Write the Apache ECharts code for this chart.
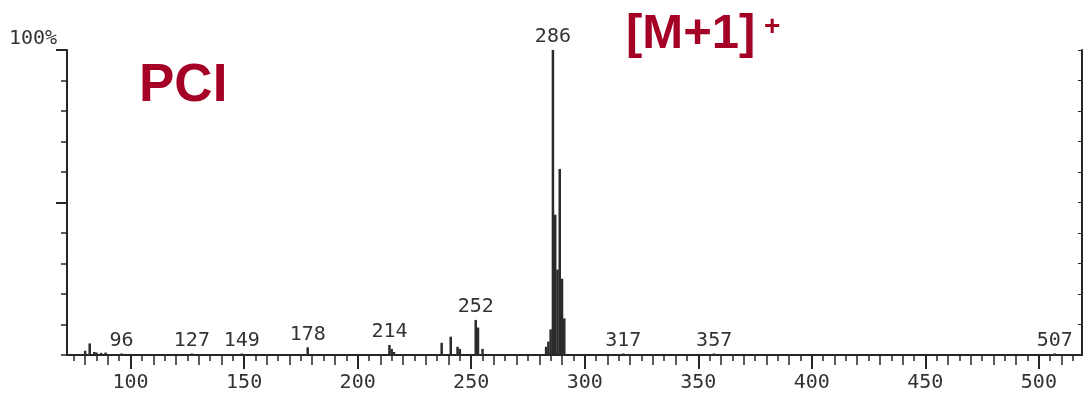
<!DOCTYPE html>
<html>
<head>
<meta charset="utf-8">
<script src="https://cdn.jsdelivr.net/npm/echarts@6/dist/echarts.min.js"></script>
<style>
  html, body { margin: 0; padding: 0; background: #ffffff; }
  #chart { width: 1085px; height: 397px; }
</style>
</head>
<body>
<div id="chart"></div>
<script>
// m/z positions of the peaks
const mzValues = [80, 82, 84, 85, 87, 89, 96, 127, 149, 178, 214, 215, 216, 237, 241, 244, 245, 252, 253, 255, 283, 284, 285, 286, 287, 288, 289, 290, 291, 317, 357, 507];
// relative intensities (%)
const intensities = [1.4, 3.8, 1.0, 0.8, 0.7, 0.8, 0.5, 0.5, 0.5, 2.5, 3.3, 2.0, 1.0, 4.0, 6.0, 2.7, 2.0, 11.5, 9.0, 2.0, 2.7, 4.4, 8.4, 100, 46, 28, 61, 25, 12, 0.5, 0.5, 0.5];
// peaks that carry an m/z label
const labeledPeaks = [96, 127, 149, 178, 214, 252, 286, 317, 357, 507];
// x-axis tick labels
const xLabelValues = [100, 150, 200, 250, 300, 350, 400, 450, 500];
const yTopLabel = '100%';
const titleText = 'PCI';
const ionText = '[M+1]';
const ionCharge = '+';

const xMin = 72, xMax = 519;
const fives = [], tens = [];
for (let v = 75; v <= 515; v += 5) { if (v % 10 === 0) tens.push(v); else fives.push(v); }

const mono = 'DejaVu Sans Mono';
const ink = '#262626';
const red = '#a50026';

const chart = echarts.init(document.getElementById('chart'), null, { renderer: 'canvas' });

const baseX = {
  type: 'value', min: xMin, max: xMax, position: 'bottom', offset: 0,
  splitLine: { show: false }
};

chart.setOption({
  animation: false,
  backgroundColor: '#ffffff',
  grid: { left: 67, right: 3, top: 50, bottom: 42, containLabel: false },
  xAxis: [
    Object.assign({}, baseX, {
      axisLine: { show: true, lineStyle: { color: ink, width: 2 } },
      axisTick: { show: true, customValues: fives, length: 6, lineStyle: { color: ink, width: 1.5 } },
      axisLabel: { show: true, customValues: xLabelValues, margin: 18, fontFamily: mono, fontSize: 20, color: '#333' }
    }),
    Object.assign({}, baseX, {
      axisLine: { show: false },
      axisTick: { show: true, customValues: tens, length: 10, lineStyle: { color: ink, width: 1.5 } },
      axisLabel: { show: false }
    }),
    Object.assign({}, baseX, {
      axisLine: { show: false },
      axisTick: { show: true, customValues: xLabelValues, length: 14, lineStyle: { color: ink, width: 2 } },
      axisLabel: { show: false }
    })
  ],
  yAxis: [
    {
      type: 'value', min: 0, max: 100, interval: 10, position: 'left',
      axisLine: { show: true, lineStyle: { color: ink, width: 2 } },
      axisTick: { show: true, length: 6, lineStyle: { color: ink, width: 1.5 } },
      axisLabel: { show: false }, splitLine: { show: false }
    },
    {
      type: 'value', min: 0, max: 100, position: 'left', offset: 0,
      axisLine: { show: false },
      axisTick: { show: true, customValues: [50, 100], length: 11, lineStyle: { color: ink, width: 2 } },
      axisLabel: { show: false }, splitLine: { show: false }
    },
    {
      type: 'value', min: 0, max: 100, interval: 10, position: 'right',
      axisLine: { show: true, lineStyle: { color: ink, width: 2 } },
      axisTick: { show: true, inside: true, length: 4, lineStyle: { color: ink, width: 1 } },
      axisLabel: { show: false }, splitLine: { show: false }
    }
  ],
  series: [{
    type: 'bar',
    xAxisIndex: 0,
    yAxisIndex: 0,
    barWidth: 2.5,
    itemStyle: { color: '#2b2b2b' },
    label: {
      show: false, position: 'top', distance: 3,
      fontFamily: mono, fontSize: 20, color: '#333',
      formatter: p => String(p.value[0])
    },
    data: mzValues.map((m, i) => ({
      value: [m, intensities[i]],
      label: { show: labeledPeaks.indexOf(m) >= 0 }
    }))
  }],
  graphic: [
    { type: 'text', left: 9, top: 29, style: { text: yTopLabel, font: '20px "DejaVu Sans Mono"', fill: '#333' } },
    { type: 'text', left: 139, top: 60, style: { text: titleText, font: 'bold 53px "Liberation Sans"', fill: red } },
    { type: 'text', left: 626, top: 10, style: { text: ionText, font: 'bold 49px "Liberation Sans"', fill: red } },
    { type: 'text', left: 764, top: 13, style: { text: ionCharge, font: 'bold 28px "Liberation Sans"', fill: red } }
  ]
});
</script>
</body>
</html>
